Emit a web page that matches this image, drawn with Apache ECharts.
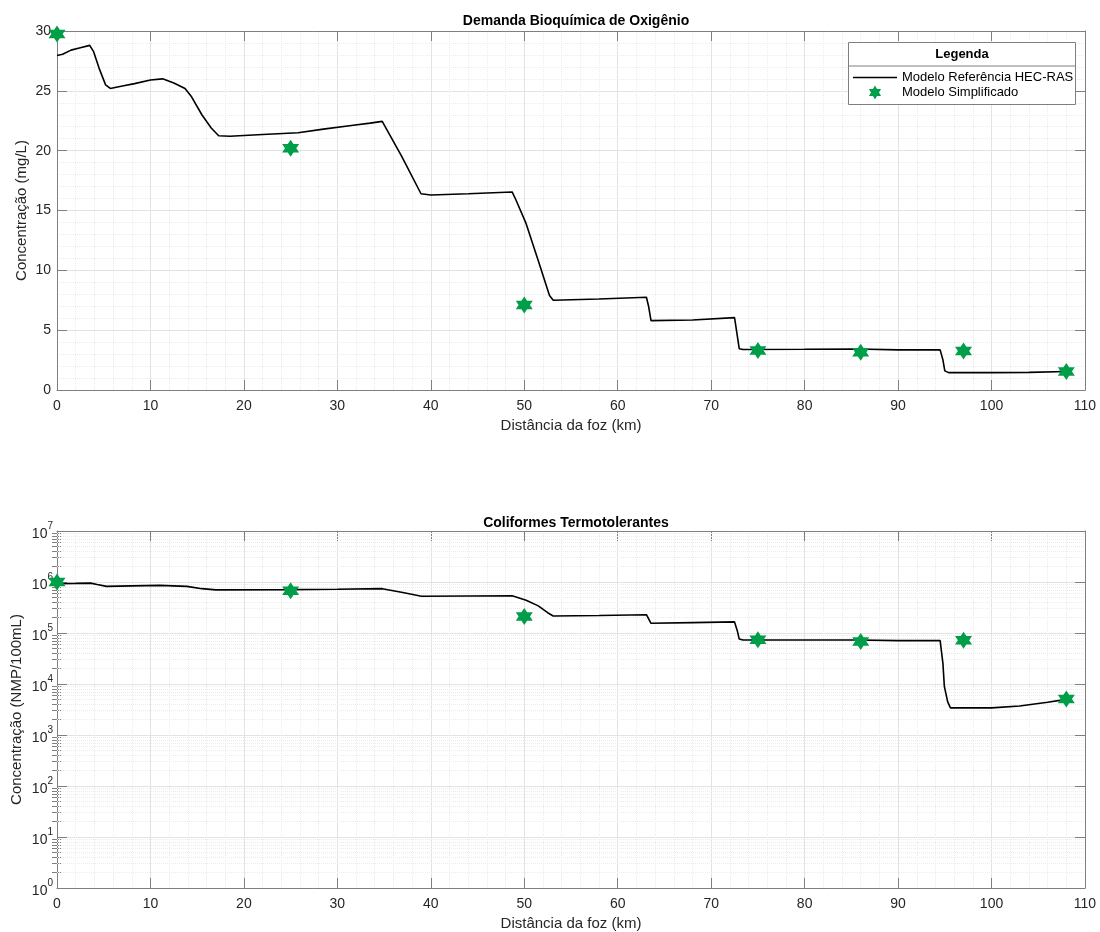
<!DOCTYPE html>
<html><head><meta charset="utf-8">
<script src="https://cdn.jsdelivr.net/npm/echarts@6/dist/echarts.min.js"></script>
<style>html,body{margin:0;padding:0;background:#fff}#c{width:1100px;height:932px}</style>
</head><body><div id="c"></div>
<script>
// ---- Data ----
const DIST_REF_DBO = [0,0.6,1.5,2.5,3.5,3.9,4.5,5.2,5.7,7,8.3,10,11.3,12.5,13.7,14.4,15.5,16.5,17.3,18.5,22,25.8,28.5,31.5,33.5,34.8,36.9,38.95,40,44,48.7,49.1,50.2,51.5,52.7,53.1,58,63.07,63.3,63.56,68,72.5,72.8,73.0,73.4,80,85.7,90,94.5,94.8,95.0,95.4,100,104,108];
const DBO_REF = [27.95,28.05,28.4,28.6,28.8,28.3,26.9,25.5,25.2,25.4,25.6,25.9,26.0,25.65,25.2,24.5,23.0,21.9,21.25,21.2,21.35,21.5,21.8,22.1,22.3,22.45,19.5,16.4,16.3,16.4,16.55,15.9,13.9,10.8,7.9,7.5,7.6,7.75,7.0,5.8,5.85,6.05,4.5,3.45,3.38,3.4,3.42,3.35,3.35,2.5,1.6,1.45,1.45,1.47,1.55];

const DIST_REF_COLI = [0,2,3.6,4.3,5.3,8,11,13.9,15.5,17,25,30,34.8,37,39,44,48.7,50.2,51.5,52.5,53.1,58,63.07,63.56,68,72.5,72.8,73.0,73.4,80,85.7,90,94.5,94.8,94.95,95.3,95.6,100,103,106,108];
const COLI_REF = [9.3e5,9.4e5,9.5e5,8.9e5,8.2e5,8.4e5,8.6e5,8.2e5,7.4e5,7.0e5,7.1e5,7.2e5,7.4e5,6.2e5,5.25e5,5.3e5,5.35e5,4.4e5,3.4e5,2.5e5,2.15e5,2.2e5,2.28e5,1.55e5,1.6e5,1.65e5,1.1e5,7.6e4,7.3e4,7.3e4,7.3e4,7.1e4,7.1e4,2.5e4,9e3,4.5e3,3.4e3,3.4e3,3.7e3,4.4e3,5.0e3];

const DIST_SIMPL = [0,25,50,75,86,97,108];
const DBO_SIMPL = [29.75,20.2,7.1,3.3,3.15,3.25,1.55];
const COLI_SIMPL = [1.0e6,6.7e5,2.1e5,7.4e4,6.8e4,7.2e4,5.1e3];

const X_MIN = 0, X_MAX = 110, X_STEP = 10;
const DBO_MIN = 0, DBO_MAX = 30, DBO_STEP = 5;
const LOG_MIN = 1, LOG_MAX = 1e7;
const LOG_MINOR = [];
for (let e = 0; e < 7; e++) for (let m = 2; m <= 9; m++) LOG_MINOR.push(m * Math.pow(10, e));

const NAME_REF = 'Modelo Referência HEC-RAS';
const NAME_SIM = 'Modelo Simplificado';
const TITLE_TOP = 'Demanda Bioquímica de Oxigênio';
const TITLE_BOT = 'Coliformes Termotolerantes';
const X_NAME = 'Distância da foz (km)';
const Y_NAME_TOP = 'Concentração (mg/L)';
const Y_NAME_BOT = 'Concentração (NMP/100mL)';

// ---- Styling ----
const FONT = 'Liberation Sans, Arial, sans-serif';
const AX = '#7f7f7f';
const TXT = '#262626';
const GREEN = '#009E49';
const MAJ = '#e3e3e3';
const MIN = '#ececec';

// hexagram symbol
let pts = [];
for (let k = 0; k < 12; k++) {
  const a = (-90 + k * 30) * Math.PI / 180;
  const r = k % 2 === 0 ? 100 : 57.7;
  pts.push((100 + r * Math.cos(a)).toFixed(2) + ' ' + (100 + r * Math.sin(a)).toFixed(2));
}
const STAR = 'path://M' + pts.join(' L') + ' Z';
const LINE_ICON = 'path://M0 0 H440 V16 H0 Z';

const zip = (a, b) => a.map((v, i) => [v, b[i]]);

const grids = [
  { left: 57, right: 15, top: 31, height: 359, outerBoundsMode: 'none', containLabel: false },
  { left: 57, right: 15, top: 531, height: 357, outerBoundsMode: 'none', containLabel: false }
];

function xAxisBase(gi, pos, main) {
  return {
    type: 'value', gridIndex: gi, position: pos, min: X_MIN, max: X_MAX, interval: X_STEP,
    axisLine: { show: true, onZero: false, lineStyle: { color: AX, width: 1 } },
    axisTick: { show: true, inside: true, length: 10, lineStyle: { color: AX } },
    axisLabel: { show: main, color: TXT, fontSize: 14, fontFamily: FONT, margin: 9 },
    minorTick: { show: main, splitNumber: 5, length: 0 },
    splitLine: { show: main, lineStyle: { color: MAJ, width: 1 } },
    minorSplitLine: { show: main, lineStyle: { color: MIN, width: 1, type: [1, 1] } },
    name: main ? X_NAME : '', nameLocation: 'middle', nameGap: 28,
    nameTextStyle: { color: TXT, fontSize: 15, fontFamily: FONT }
  };
}

const option = {
  animation: false,
  backgroundColor: '#fff',
  textStyle: { fontFamily: FONT },
  title: [
    { text: TITLE_TOP, left: 571, textAlign: 'center', top: 9, textStyle: { fontSize: 14, fontWeight: 'bold', color: '#000', fontFamily: FONT } },
    { text: TITLE_BOT, left: 571, textAlign: 'center', top: 511, textStyle: { fontSize: 14, fontWeight: 'bold', color: '#000', fontFamily: FONT } }
  ],
  grid: grids,
  xAxis: [
    xAxisBase(0, 'bottom', true),
    xAxisBase(0, 'top', false),
    xAxisBase(1, 'bottom', true),
    xAxisBase(1, 'top', false)
  ],
  yAxis: [
    {
      type: 'value', gridIndex: 0, position: 'left', min: DBO_MIN, max: DBO_MAX, interval: DBO_STEP,
      axisLine: { show: true, onZero: false, lineStyle: { color: AX } },
      axisTick: { show: true, inside: true, length: 10, lineStyle: { color: AX } },
      axisLabel: { color: TXT, fontSize: 14, fontFamily: FONT, margin: 6 },
      minorTick: { show: true, splitNumber: 5, length: 0 },
      splitLine: { show: true, lineStyle: { color: MAJ } },
      minorSplitLine: { show: true, lineStyle: { color: MIN, type: [1, 1] } },
      name: Y_NAME_TOP, nameLocation: 'middle', nameGap: 28, nameMoveOverlap: false,
      nameTextStyle: { color: TXT, fontSize: 15, fontFamily: FONT }
    },
    {
      type: 'value', gridIndex: 0, position: 'right', min: DBO_MIN, max: DBO_MAX, interval: DBO_STEP,
      axisLine: { show: true, onZero: false, lineStyle: { color: AX } },
      axisTick: { show: true, inside: true, length: 10, lineStyle: { color: AX } },
      axisLabel: { show: false }, splitLine: { show: false }
    },
    {
      type: 'log', logBase: 10, gridIndex: 1, position: 'left', min: LOG_MIN, max: LOG_MAX,
      axisLine: { show: true, onZero: false, lineStyle: { color: AX } },
      axisTick: { show: true, inside: true, length: 10, lineStyle: { color: AX } },
      axisLabel: {
        color: TXT, fontFamily: FONT, margin: 4,
        formatter: v => '{b|10}{s|' + Math.round(Math.log10(v)) + '}',
        rich: {
          b: { fontSize: 14, color: TXT, fontFamily: FONT, verticalAlign: 'bottom', lineHeight: 20 },
          s: { fontSize: 10, color: TXT, fontFamily: FONT, verticalAlign: 'top', lineHeight: 20 }
        }
      },
      splitLine: { show: true, lineStyle: { color: MAJ } },
      name: Y_NAME_BOT, nameLocation: 'middle', nameGap: 33, nameMoveOverlap: false,
      nameTextStyle: { color: TXT, fontSize: 15, fontFamily: FONT }
    },
    {
      type: 'log', logBase: 10, gridIndex: 1, position: 'right', min: LOG_MIN, max: LOG_MAX,
      axisLine: { show: true, onZero: false, lineStyle: { color: AX } },
      axisTick: { show: true, inside: true, length: 10, lineStyle: { color: AX } },
      axisLabel: { show: false }, splitLine: { show: false }
    },
    {
      type: 'log', logBase: 10, gridIndex: 1, position: 'left', min: LOG_MIN, max: LOG_MAX,
      axisLine: { show: false },
      axisTick: { show: true, inside: true, length: 5, customValues: LOG_MINOR, lineStyle: { color: AX } },
      axisLabel: { show: false }, splitLine: { show: false }
    },
    {
      type: 'log', logBase: 10, gridIndex: 1, position: 'right', min: LOG_MIN, max: LOG_MAX,
      axisLine: { show: false },
      axisTick: { show: true, inside: true, length: 5, customValues: LOG_MINOR, lineStyle: { color: AX } },
      axisLabel: { show: false }, splitLine: { show: false }
    }
  ],
  legend: {
    orient: 'vertical', left: 848, top: 66, itemWidth: 44, itemHeight: 14, itemGap: 1.5,
    textStyle: { fontSize: 13, color: '#000', fontFamily: FONT },
    data: [
      { name: NAME_REF, icon: LINE_ICON, itemStyle: { color: '#000' } },
      { name: NAME_SIM, icon: STAR }
    ],
    selectedMode: false, z: 20
  },
  graphic: [
    { type: 'rect', left: 848, top: 42, z: 10, shape: { width: 227, height: 62 }, style: { fill: '#fff', stroke: AX, lineWidth: 1 } },
    { type: 'line', z: 11, shape: { x1: 848, y1: 66, x2: 1075, y2: 66 }, style: { stroke: AX, lineWidth: 1 } },
    { type: 'text', z: 11, x: 962, y: 54, style: { text: 'Legenda', fill: '#000', font: 'bold 13px ' + FONT, textAlign: 'center', textVerticalAlign: 'middle' } }
  ],
  series: [
    {
      name: NAME_REF, type: 'line', xAxisIndex: 0, yAxisIndex: 0, data: zip(DIST_REF_DBO, DBO_REF),
      symbol: 'none', lineStyle: { color: '#000', width: 1.6 }, itemStyle: { color: '#000' }, z: 3
    },
    {
      name: NAME_SIM, type: 'scatter', xAxisIndex: 0, yAxisIndex: 0, data: zip(DIST_SIMPL, DBO_SIMPL),
      symbol: STAR, symbolSize: 17, itemStyle: { color: GREEN, opacity: 1 }, z: 4
    },
    {
      name: NAME_REF, type: 'line', xAxisIndex: 2, yAxisIndex: 2, data: zip(DIST_REF_COLI, COLI_REF),
      symbol: 'none', lineStyle: { color: '#000', width: 1.6 }, itemStyle: { color: '#000' }, z: 3,
      markLine: {
        silent: true, symbol: 'none', label: { show: false }, z: 1,
        lineStyle: { color: MIN, width: 1, type: [1, 1] },
        data: LOG_MINOR.map(v => ({ yAxis: v }))
      }
    },
    {
      name: NAME_SIM, type: 'scatter', xAxisIndex: 2, yAxisIndex: 2, data: zip(DIST_SIMPL, COLI_SIMPL),
      symbol: STAR, symbolSize: 17, itemStyle: { color: GREEN, opacity: 1 }, z: 4
    }
  ]
};

const chart = echarts.init(document.getElementById('c'), null, { renderer: 'canvas' });
chart.setOption(option);
</script>
</body></html>
